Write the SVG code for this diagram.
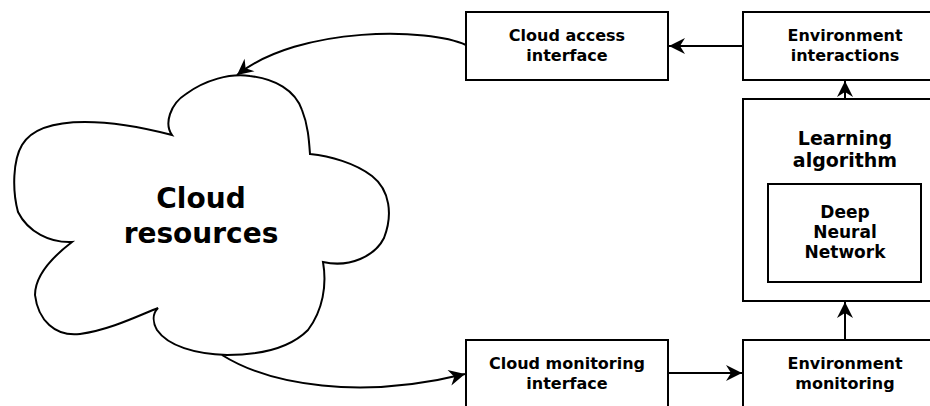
<svg xmlns="http://www.w3.org/2000/svg" width="930" height="406" viewBox="0 0 930 406">
<style>
.box{fill:#fff;stroke:#000;stroke-width:2}
.lbl{font-family:"DejaVu Sans",sans-serif;font-weight:bold;font-size:16px;text-anchor:middle;fill:#000}
.big{font-size:19px}
.huge{font-size:28px}
.dnn{font-size:17px}
.edge{fill:none;stroke:#000;stroke-width:2}
</style>
<defs>
<marker id="ah" markerUnits="userSpaceOnUse" markerWidth="20" markerHeight="20" viewBox="-17 -10 19 20" refX="0" refY="0" orient="auto">
<path d="M0,0 L-16,-8 L-11,0 L-16,8 Z" fill="#000"/>
</marker>
</defs>
<rect width="930" height="406" fill="#fff"/>
<g id="cloud">
<path class="box" d="M172,135 C164,124 170,104 186,94 C205,80 230,73 250,76 C275,79 295,90 302,110 C308,125 309,140 310,154 C330,156 355,163 372,176 C390,190 393,215 384,238 C375,256 350,268 323,262 C327,285 323,310 308,330 C290,348 260,355 227,355 C195,354 168,346 157,330 C152,321 153,313 158,308 C140,315 110,330 80,334 C55,337 38,320 35,295 C35,275 55,255 72,242 C50,243 28,232 18,212 C12,190 13,160 22,145 C32,128 55,122 85,122 C115,122 145,128 172,135 Z"/>
<text class="lbl huge" x="201" y="208">Cloud</text>
<text class="lbl huge" x="201" y="243">resources</text>
</g>
<g id="cloud-access">
<rect class="box" x="466" y="12" width="202" height="68"/>
<text class="lbl" x="567" y="41">Cloud access</text>
<text class="lbl" x="567" y="61">interface</text>
</g>
<g id="env-interactions">
<rect class="box" x="743" y="12" width="204" height="68"/>
<text class="lbl" x="845" y="41">Environment</text>
<text class="lbl" x="845" y="61">interactions</text>
</g>
<g id="learning">
<rect class="box" x="743" y="99" width="204" height="202"/>
<text class="lbl big" x="845" y="145">Learning</text>
<text class="lbl big" x="845" y="167">algorithm</text>
</g>
<g id="dnn">
<rect class="box" x="768" y="184" width="153" height="98"/>
<text class="lbl dnn" x="845" y="218">Deep</text>
<text class="lbl dnn" x="845" y="238">Neural</text>
<text class="lbl dnn" x="845" y="258">Network</text>
</g>
<g id="cloud-monitoring">
<rect class="box" x="466" y="340" width="202" height="70"/>
<text class="lbl" x="567" y="369">Cloud monitoring</text>
<text class="lbl" x="567" y="389">interface</text>
</g>
<g id="env-monitoring">
<rect class="box" x="743" y="340" width="204" height="70"/>
<text class="lbl" x="845" y="369">Environment</text>
<text class="lbl" x="845" y="389">monitoring</text>
</g>
<g id="connectors">
<path class="edge" d="M743,46 L669,46" marker-end="url(#ah)"/>
<path class="edge" d="M845,99 L845,81" marker-end="url(#ah)"/>
<path class="edge" d="M845,340 L845,302" marker-end="url(#ah)"/>
<path class="edge" d="M668,373 L742,373" marker-end="url(#ah)"/>
<path class="edge" d="M466,45 C430,28 300,25 237,75" marker-end="url(#ah)"/>
<path class="edge" d="M222,355 C270,385 360,400 465,374" marker-end="url(#ah)"/>
</g>
</svg>
